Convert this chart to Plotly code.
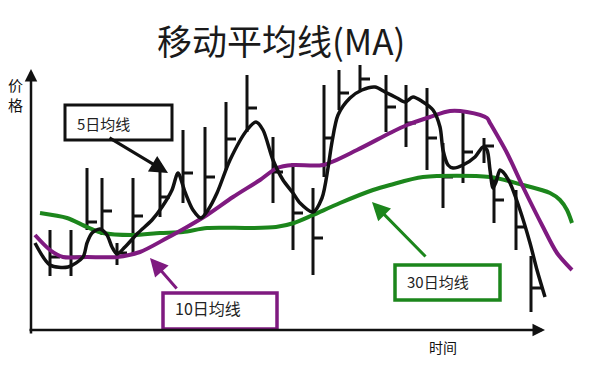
import plotly.graph_objects as go

# ---- data (price bars: position, high, low, close) ----
bar_x = [50, 71, 87, 102, 117, 133, 160, 183, 205, 226, 247, 273, 293, 313, 324, 339, 360, 386, 406, 427, 443, 463, 484, 494, 516, 531]
bar_high = [138, 138, 200, 190, 125, 190, 205, 238, 241, 266, 293, 231, 205, 180, 283, 298, 303, 293, 283, 280, 225, 256, 230, 191, 178, 112]
bar_low = [92, 92, 138, 133, 103, 115, 151, 165, 151, 198, 236, 165, 118, 93, 191, 258, 278, 236, 221, 198, 160, 185, 205, 145, 118, 56]
bar_close = [111, 111, 146, 157, 115, 152, 171, 195, 191, 229, 260, 196, 155, 130, 230, 275, 289, 261, 245, 230, 191, 216, 222, 168, 141, 80]

ma5_x = [35, 50, 68, 83, 87, 92, 100, 107, 112, 117, 125, 138, 152, 162, 172, 178, 185, 193, 201, 208, 217, 230, 247, 256, 263, 273, 283, 293, 300, 313, 322, 328, 332, 338, 350, 362, 375, 385, 397, 405, 413, 423, 433, 440, 443, 448, 453, 463, 475, 483, 487, 490, 493, 496, 500, 503, 510, 520, 530, 537, 545]
ma5_y = [125, 103, 101, 111, 125, 135, 139, 133, 121, 114, 121, 135, 148, 161, 178, 195, 176, 158, 150, 158, 175, 208, 238, 246, 238, 208, 188, 175, 165, 156, 170, 200, 226, 253, 270, 278, 281, 276, 270, 266, 271, 266, 258, 241, 218, 203, 200, 203, 211, 221, 218, 198, 180, 186, 198, 196, 185, 158, 125, 98, 71]

ma10_x = [35, 50, 63, 87, 117, 140, 167, 187, 207, 233, 260, 277, 293, 323, 357, 390, 407, 430, 450, 467, 487, 490, 507, 523, 543, 557, 572]
ma10_y = [133, 118, 111, 111, 111, 116, 130, 141, 153, 171, 188, 200, 203, 203, 218, 235, 243, 251, 257, 256, 250, 245, 215, 181, 141, 115, 98]

ma30_x = [40, 67, 87, 103, 133, 160, 183, 207, 250, 276, 294, 313, 340, 373, 390, 423, 490, 523, 550, 560, 567, 572]
ma30_y = [155, 150, 141, 135, 133, 135, 136, 140, 140, 141, 145, 153, 165, 178, 183, 191, 191, 183, 175, 168, 158, 145]

title_text = "移动平均线(MA)"
label_ma5 = "5日均线"
label_ma10 = "10日均线"
label_ma30 = "30日均线"
y_label = "价<br>格"
x_label = "时间"

BLACK = "#111111"
PURPLE = "#7f1a80"
GREEN = "#1c861c"
TICK = 10

# build bar segments
bx, by = [], []
for x, h, l, c in zip(bar_x, bar_high, bar_low, bar_close):
    bx += [x, x, None, x, x + TICK, None]
    by += [l, h, None, c, c, None]

fig = go.Figure()
fig.add_trace(go.Scatter(x=bx, y=by, mode="lines", line=dict(color=BLACK, width=3), hoverinfo="skip"))
fig.add_trace(go.Scatter(x=ma30_x, y=ma30_y, mode="lines", line=dict(color=GREEN, width=4, shape="spline", smoothing=0.8)))
fig.add_trace(go.Scatter(x=ma10_x, y=ma10_y, mode="lines", line=dict(color=PURPLE, width=4, shape="spline", smoothing=0.8)))
fig.add_trace(go.Scatter(x=ma5_x, y=ma5_y, mode="lines", line=dict(color=BLACK, width=3.5, shape="spline", smoothing=0.8)))

CJK = "Noto Sans CJK SC"
shapes = [
    dict(type="rect", x0=65, x1=172, y0=228, y1=263, line=dict(color=BLACK, width=3), fillcolor="white", layer="above"),
    dict(type="rect", x0=163, x1=277, y0=39, y1=75, line=dict(color=PURPLE, width=3.5), fillcolor="white", layer="above"),
    dict(type="rect", x0=395, x1=500, y0=68, y1=103, line=dict(color=GREEN, width=3.5), fillcolor="white", layer="above"),
]

annotations = [
    # axes
    dict(x=31, y=299, ax=31, ay=33, xref="x", yref="y", axref="x", ayref="y", text="", showarrow=True,
         arrowhead=2, arrowsize=1, arrowwidth=2.5, arrowcolor=BLACK),
    dict(x=545, y=38, ax=28, ay=38, xref="x", yref="y", axref="x", ayref="y", text="", showarrow=True,
         arrowhead=2, arrowsize=1, arrowwidth=2.5, arrowcolor=BLACK),
    # pointer arrows
    dict(x=168, y=195, ax=108, ay=231, xref="x", yref="y", axref="x", ayref="y", text="", showarrow=True,
         arrowhead=2, arrowsize=1.2, arrowwidth=3, arrowcolor=BLACK),
    dict(x=150, y=110, ax=178, ay=78, xref="x", yref="y", axref="x", ayref="y", text="", showarrow=True,
         arrowhead=2, arrowsize=1.2, arrowwidth=3, arrowcolor=PURPLE),
    dict(x=372, y=166, ax=427, ay=110, xref="x", yref="y", axref="x", ayref="y", text="", showarrow=True,
         arrowhead=2, arrowsize=1.2, arrowwidth=3, arrowcolor=GREEN),
    # texts
    dict(x=75, y=245, xref="x", yref="y", text=label_ma5, showarrow=False, xanchor="left",
         font=dict(family=CJK, size=15, color="#222")),
    dict(x=173, y=60, xref="x", yref="y", text=label_ma10, showarrow=False, xanchor="left",
         font=dict(family=CJK, size=16, color="#222")),
    dict(x=405, y=87, xref="x", yref="y", text=label_ma30, showarrow=False, xanchor="left",
         font=dict(family=CJK, size=15, color="#222")),
    dict(x=15, y=274, xref="x", yref="y", text=y_label, showarrow=False,
         font=dict(family=CJK, size=15, color="#111")),
    dict(x=443, y=21, xref="x", yref="y", text=x_label, showarrow=False,
         font=dict(family=CJK, size=14, color="#111")),
    dict(x=281, y=329, xref="x", yref="y", text=title_text, showarrow=False,
         font=dict(family=CJK, size=35, color="#1a1a1a")),
]

# the page body has an 8px margin: size the figure to the remaining viewport
fig.update_layout(
    width=590, height=360,
    margin=dict(l=0, r=0, t=0, b=0),
    paper_bgcolor="white", plot_bgcolor="white",
    showlegend=False,
    xaxis=dict(range=[8, 598], visible=False, fixedrange=True),
    yaxis=dict(range=[0, 360], visible=False, fixedrange=True),
    shapes=shapes,
    annotations=annotations,
)

fig.write_html("out.html")
